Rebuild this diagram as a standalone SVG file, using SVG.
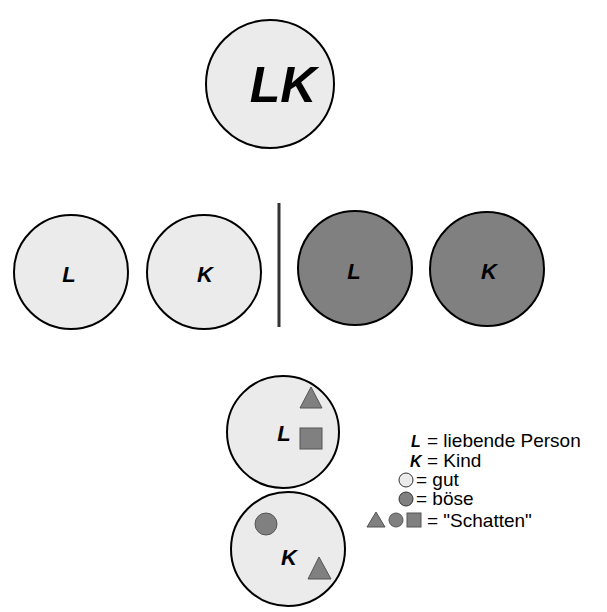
<svg xmlns="http://www.w3.org/2000/svg" width="607" height="612" viewBox="0 0 607 612">
  <style>
    .light { fill: #ebebeb; stroke: #000; stroke-width: 2; }
    .dark { fill: #808080; stroke: #000; stroke-width: 2; }
    .shape { fill: #808080; stroke: #555; stroke-width: 1; }
    .lbl { font-family: "Liberation Sans", Arial, sans-serif; font-style: italic; font-weight: bold; text-anchor: middle; fill: #000; }
    .leg { font-family: "Liberation Sans", Arial, sans-serif; font-size: 19px; fill: #000; }
    .legb { font-family: "Liberation Sans", Arial, sans-serif; font-size: 16px; font-style: italic; font-weight: bold; fill: #000; }
  </style>
  <rect width="607" height="612" fill="#fff"/>

  <g id="node-LK">
    <circle class="light" cx="270" cy="84" r="64"/>
    <text class="lbl" x="283" y="102" font-size="50">LK</text>
  </g>

  <g id="node-L-good">
    <circle class="light" cx="71" cy="272" r="57"/>
    <text class="lbl" x="69" y="282" font-size="22">L</text>
  </g>
  <g id="node-K-good">
    <circle class="light" cx="204" cy="272" r="57"/>
    <text class="lbl" x="205" y="282" font-size="22">K</text>
  </g>

  <g id="connectors">
    <line x1="279" y1="203" x2="279" y2="327" stroke="#333" stroke-width="3"/>
  </g>

  <g id="node-L-bad">
    <circle class="dark" cx="355" cy="268" r="57"/>
    <text class="lbl" x="354" y="279" font-size="22">L</text>
  </g>
  <g id="node-K-bad">
    <circle class="dark" cx="487" cy="269" r="57"/>
    <text class="lbl" x="489" y="279" font-size="22">K</text>
  </g>

  <g id="node-L-shadow">
    <circle class="light" cx="283" cy="432" r="56"/>
    <text class="lbl" x="284" y="441" font-size="22">L</text>
    <polygon class="shape" points="311,387 322,408 300,408"/>
    <rect class="shape" x="300" y="428" width="22" height="21"/>
  </g>

  <g id="node-K-shadow">
    <circle class="light" cx="288" cy="549" r="57"/>
    <text class="lbl" x="289" y="565" font-size="22">K</text>
    <circle class="shape" cx="266" cy="524" r="11"/>
    <polygon class="shape" points="319,557 331,579 308,579"/>
  </g>

  <g id="legend">
    <text class="legb" x="411" y="447">L</text>
    <text class="leg" x="427" y="447">= liebende Person</text>
    <text class="legb" x="410" y="467">K</text>
    <text class="leg" x="427" y="467">= Kind</text>
    <circle cx="406" cy="480" r="7" fill="#ebebeb" stroke="#333" stroke-width="1"/>
    <text class="leg" x="416" y="486">= gut</text>
    <circle cx="406" cy="499" r="7" fill="#808080" stroke="#333" stroke-width="1"/>
    <text class="leg" x="416" y="505">= böse</text>
    <polygon class="shape" points="376,512 385,527 367,527"/>
    <circle class="shape" cx="396" cy="520" r="7"/>
    <rect class="shape" x="407" y="513" width="14" height="14"/>
    <text class="leg" x="427" y="527">= "Schatten"</text>
  </g>
</svg>
